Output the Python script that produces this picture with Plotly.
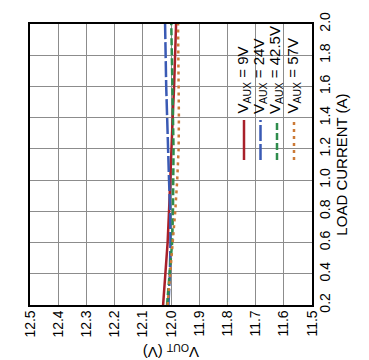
import plotly.graph_objects as go

load_current = [0.2, 0.4, 0.6, 0.8, 1.0, 1.2, 1.4, 1.6, 1.8, 2.0]
vout_9v = [12.028, 12.019, 12.012, 12.007, 12.003, 12.000, 11.994, 11.989, 11.986, 11.982]
vout_24v = [12.009, 12.004, 12.002, 12.003, 12.007, 12.011, 12.014, 12.017, 12.019, 12.021]
vout_42v5 = [12.014, 12.004, 11.996, 11.993, 11.991, 11.991, 11.993, 11.995, 11.997, 11.999]
vout_57v = [12.012, 12.003, 11.993, 11.985, 11.978, 11.973, 11.972, 11.973, 11.974, 11.975]

series_names = ["V<sub>AUX</sub> = 9V", "V<sub>AUX</sub> = 24V",
                "V<sub>AUX</sub> = 42.5V", "V<sub>AUX</sub> = 57V"]
series_values = [vout_9v, vout_24v, vout_42v5, vout_57v]
colors = ["#a8202a", "#3a5ab4", "#2e8c4c", "#cc7a36"]
dashes = ["solid", "16px,3px", "7px,3px", "3px,4px"]

FONT = "Liberation Sans Narrow, Arial Narrow, Liberation Sans, Arial"

fig = go.Figure()
for name, vals, c, d in zip(series_names, series_values, colors, dashes):
    fig.add_trace(go.Scatter(x=vals, y=load_current, mode="lines", name=name,
                             line=dict(color=c, width=2.5, dash=d),
                             showlegend=False))

L, R, T, B = 22, 304, 16, 297
W, H = 369, 360

def px2x(px):
    return (px - L) / (R - L)

def px2y(py):
    return (B - py) / (B - T)

shapes = [dict(type="rect", xref="paper", yref="paper",
               x0=px2x(223), x1=px2x(299), y0=px2y(160), y1=1.0,
               fillcolor="white", line=dict(width=0), layer="between")]
annotations = []
leg_x = [236, 252.5, 269, 286]
for i, (name, c, d) in enumerate(zip(series_names, colors, dashes)):
    shapes.append(dict(type="line", xref="paper", yref="paper",
                       x0=px2x(leg_x[i]), x1=px2x(leg_x[i]),
                       y0=px2y(152), y1=px2y(112),
                       line=dict(color=c, width=2.5, dash=d), layer="above"))
    annotations.append(dict(xref="paper", yref="paper", x=px2x(leg_x[i] - 1),
                            y=px2y(108), text=name, textangle=-90,
                            showarrow=False, xanchor="center", yanchor="bottom",
                            font=dict(family=FONT, size=15, color="black")))

annotations.append(dict(xref="paper", yref="paper", x=px2x(163), y=px2y(344),
                        text="V<sub>OUT</sub> (V)", textangle=180, showarrow=False,
                        xanchor="center", yanchor="middle",
                        font=dict(family=FONT, size=15, color="black")))
annotations.append(dict(xref="paper", yref="paper", x=px2x(357), y=px2y(43),
                        text="<i>4276 TA08b</i>", textangle=-90, showarrow=False,
                        xanchor="center", yanchor="middle",
                        font=dict(family=FONT, size=7, color="#444444")))

fig.update_layout(
    width=W, height=H,
    margin=dict(l=L, r=W - R, t=T, b=H - B),
    plot_bgcolor="white", paper_bgcolor="white",
    shapes=shapes, annotations=annotations,
    font=dict(family=FONT, size=14, color="black"),
    xaxis=dict(range=[12.5, 11.5], tick0=11.5, dtick=0.1, tickformat=".1f",
               tickangle=-90, showgrid=True, gridcolor="#8c8c8c", gridwidth=1,
               showline=True, linecolor="black", linewidth=1.5, mirror=True,
               ticks="", zeroline=False, automargin=False, ticklabelstandoff=-2,
               tickfont=dict(family=FONT, size=14)),
    yaxis=dict(range=[0.2, 2.0], tick0=0.2, dtick=0.2, tickformat=".1f",
               side="right", tickangle=-90, showgrid=True, gridcolor="#8c8c8c",
               gridwidth=1, showline=True, linecolor="black", linewidth=1.5,
               mirror=True, ticks="", zeroline=False, automargin=False,
               ticklabelstandoff=-1,
               tickfont=dict(family=FONT, size=14),
               title=dict(text="LOAD CURRENT (A)", standoff=2,
                          font=dict(family=FONT, size=15))),
)

fig.write_html("out.html")
